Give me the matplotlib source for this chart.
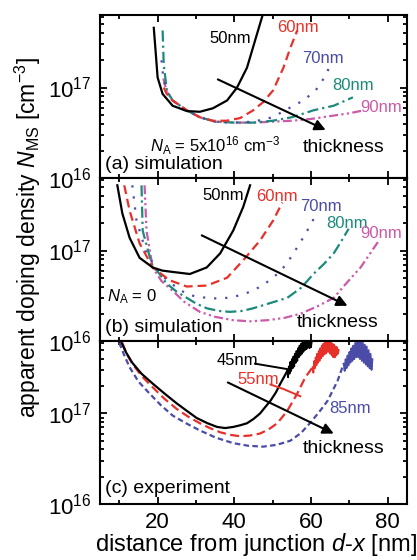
import matplotlib
matplotlib.use("Agg")
import matplotlib.pyplot as plt
from matplotlib.ticker import MultipleLocator, LogLocator, NullFormatter
import numpy as np

plt.rcParams["font.family"] = ["Liberation Sans", "DejaVu Sans"]
plt.rcParams["mathtext.fontset"] = "custom"
plt.rcParams["mathtext.rm"] = "Liberation Sans"
plt.rcParams["mathtext.it"] = "Liberation Sans:italic"
plt.rcParams["mathtext.bf"] = "Liberation Sans:bold"

E16 = 1e16

# (a) simulation, N_A = 5x10^16 cm^-3  (values in units of 1e16 cm^-3)
a50_x = [19.0, 20.0, 21.3, 23.9, 27.6, 31.0, 34.4, 38.1, 40.7, 43.3, 45.4, 47.3]
a50_y = [45.7, 12.9, 8.5, 6.3, 5.5, 5.4, 5.9, 7.2, 10.0, 16.6, 33.1, 61.7]
a60_x = [21.6, 22.4, 23.9, 27.6, 31.0, 34.4, 38.0, 41.5, 44.9, 47.5, 50.1, 52.8, 54.6, 56.4]
a60_y = [10.0, 8.5, 7.2, 5.6, 4.7, 4.3, 4.3, 4.6, 5.6, 6.9, 9.3, 16.6, 27.5, 42.7]
a70_x = [21.0, 21.5, 22.4, 23.9, 27.6, 31.0, 35.0, 40.0, 45.0, 50.0, 55.4, 58.0, 61.2, 63.3, 64.6]
a70_y = [20.0, 12.6, 8.9, 7.2, 5.6, 4.7, 4.2, 4.1, 4.2, 4.7, 6.3, 7.2, 9.3, 12.6, 16.2]
a80_x = [21.3, 21.6, 22.4, 23.9, 27.6, 31.0, 35.0, 40.0, 45.0, 50.0, 55.0, 60.6, 65.9, 70.9]
a80_y = [42.7, 17.8, 9.3, 7.2, 5.6, 4.7, 4.2, 4.1, 4.1, 4.3, 4.7, 5.6, 6.3, 7.8]
a90_x = [21.5, 22.4, 23.9, 27.6, 31.0, 35.0, 40.0, 45.0, 50.0, 55.0, 60.0, 65.9, 70.0, 73.7]
a90_y = [12.6, 8.9, 7.2, 5.6, 4.7, 4.2, 4.1, 4.1, 4.2, 4.3, 4.5, 4.9, 5.2, 5.6]

# (b) simulation, N_A = 0
b50_x = [9.5, 10.8, 12.7, 15.3, 18.7, 21.2, 23.9, 28.4, 32.8, 36.3, 39.7, 42.3, 44.1]
b50_y = [52.5, 25.7, 13.8, 8.3, 6.5, 6.0, 5.8, 5.5, 6.5, 9.3, 16.6, 30.2, 52.5]
b60_x = [11.3, 12.7, 15.3, 18.7, 23.1, 27.6, 32.8, 38.1, 42.3, 46.7, 50.1, 52.5]
b60_y = [52.5, 27.5, 12.0, 6.5, 4.7, 4.0, 4.1, 5.0, 7.8, 12.9, 21.4, 33.9]
b70_x = [13.4, 14.5, 17.1, 19.8, 22.4, 25.0, 27.6, 30.0, 32.8, 35.5, 38.1, 41.5, 44.9,
         48.0, 51.2, 53.5, 55.4, 57.3, 59.0, 61.2]
b70_y = [52.5, 21.4, 9.3, 6.3, 4.7, 3.9, 3.3, 3.1, 3.0, 2.95, 3.0, 3.2, 3.6,
         4.3, 5.5, 7.0, 9.3, 12.5, 16.6, 24.5]
b80_x = [15.8, 16.1, 18.4, 22.4, 25.0, 27.6, 30.0, 32.8, 36.0, 38.9, 42.0, 44.9, 49.0,
         53.8, 57.5, 60.6, 63.5, 65.9, 67.8, 69.8]
b80_y = [52.5, 16.6, 7.2, 4.3, 3.5, 3.0, 2.6, 2.3, 2.15, 2.1, 2.15, 2.3, 2.6,
         3.0, 3.9, 5.5, 7.2, 9.3, 12.5, 17.4]
b90_x = [16.6, 17.1, 18.7, 21.0, 23.9, 27.0, 31.0, 35.0, 39.7, 44.0, 48.6, 53.0, 57.2,
         61.5, 65.9, 69.5, 72.9, 77.7]
b90_y = [52.5, 16.6, 6.5, 4.6, 3.6, 2.7, 2.1, 1.85, 1.7, 1.65, 1.7, 1.8, 2.0,
         2.4, 3.0, 4.5, 6.5, 12.9]

# (c) experiment
c45_x = [10.6, 11.8, 13.4, 15.8, 18.7, 21.8, 25.0, 27.6, 30.2, 33.0, 35.5, 37.6, 39.7,
         41.5, 43.3, 45.0, 46.7, 48.0, 49.4, 50.8, 52.0, 53.8]
c45_y = [60.3, 47.0, 36.3, 27.5, 21.4, 16.6, 12.9, 10.7, 8.9, 7.8, 7.1, 6.9, 7.1,
         7.4, 7.8, 8.7, 10.0, 11.7, 13.8, 17.0, 21.4, 29.5]
c45_noise_x = [53.8, 54.0, 54.2, 54.4, 54.6, 54.8, 55.0, 55.2, 55.4, 55.6, 55.8, 56.0,
               56.2, 56.4, 56.6, 56.8, 57.0, 57.2, 57.4, 57.6, 57.8, 58.0, 58.2,
               58.4, 58.6, 58.8, 59.0, 59.2, 59.4, 59.6, 59.8, 60.0, 60.2]
c45_noise_y = [29.5, 25.1, 33.1, 27.5, 37.2, 29.5, 39.8, 31.6, 42.7, 33.1, 45.7, 36.3,
               49.0, 38.0, 52.5, 41.7, 56.2, 43.7, 58.9, 45.7, 61.7, 47.9, 63.1,
               50.1, 63.1, 51.3, 63.1, 53.7, 63.1, 52.5, 63.1, 55.0, 63.1]
c55_x = [10.8, 12.0, 13.4, 15.8, 18.7, 21.8, 25.0, 28.0, 31.0, 33.6, 36.3, 39.0, 41.5,
         44.0, 46.7, 49.0, 51.2, 53.8, 56.4, 58.5, 60.4]
c55_y = [60.3, 45.0, 35.5, 26.0, 19.5, 14.5, 11.2, 9.2, 7.8, 6.9, 6.2, 5.8, 5.6,
         5.7, 6.0, 6.7, 7.8, 10.7, 16.6, 25.1, 32.4]
c55_noise_x = [60.4, 60.6, 60.8, 61.0, 61.2, 61.4, 61.6, 61.8, 62.0, 62.2, 62.4, 62.6,
               62.8, 63.0, 63.2, 63.4, 63.6, 63.8, 64.0, 64.2, 64.4, 64.6, 64.8,
               65.0, 65.2, 65.4, 65.6, 65.8, 66.0, 66.2, 66.4, 66.6, 66.8, 67.0, 67.2]
c55_noise_y = [32.4, 28.2, 38.0, 31.6, 41.7, 33.9, 45.7, 36.3, 49.0, 38.0, 52.5, 40.7,
               56.2, 42.7, 58.9, 44.7, 61.7, 45.7, 63.1, 47.9, 63.1, 47.9, 63.1,
               45.7, 60.3, 43.7, 58.9, 41.7, 57.5, 41.7, 55.0, 43.7, 53.7, 45.7, 50.1]
c85_x = [10.0, 11.2, 12.7, 15.0, 17.9, 20.8, 23.9, 27.4, 31.0, 35.2, 39.7, 43.6, 47.5,
         51.0, 54.6, 57.4, 59.8, 62.2, 64.3, 66.9, 68.5]
c85_y = [60.3, 45.0, 32.4, 22.5, 16.6, 12.4, 9.5, 7.8, 6.5, 5.4, 4.7, 4.4, 4.3,
         4.5, 5.0, 6.1, 7.9, 10.5, 13.8, 22.9, 35.5]
c85_noise_x = [68.5, 68.75, 69.0, 69.25, 69.5, 69.75, 70.0, 70.25, 70.5, 70.75, 71.0,
               71.25, 71.5, 71.75, 72.0, 72.25, 72.5, 72.75, 73.0, 73.25, 73.5,
               73.75, 74.0, 74.25, 74.5, 74.75, 75.0, 75.25, 75.5, 75.75, 76.0]
c85_noise_y = [35.5, 29.5, 39.8, 31.6, 43.7, 33.9, 47.9, 36.3, 52.5, 38.0, 56.2,
               39.8, 60.3, 41.7, 63.1, 41.7, 63.1, 39.8, 63.1, 38.0, 60.3,
               36.3, 57.5, 34.7, 55.0, 33.1, 50.1, 31.6, 45.7, 30.2, 39.8]

RED = "#e8302a"
BLUE = "#4a4ca8"
TEAL = "#1b8a7a"
MAGENTA = "#cc5aa8"


def y(v):
    return np.array(v) * E16


def style_axis(ax):
    ax.set_yscale("log")
    ax.set_xlim(5, 85)
    ax.set_ylim(1e16, 10 ** 17.8)
    ax.set_yticks([1e16, 1e17])
    ax.yaxis.set_minor_locator(LogLocator(base=10, subs=np.arange(2, 10)))
    ax.yaxis.set_minor_formatter(NullFormatter())
    ax.xaxis.set_major_locator(MultipleLocator(20))
    ax.xaxis.set_minor_locator(MultipleLocator(10))
    ax.tick_params(which="both", direction="in", top=True, right=True, width=1.3)
    ax.tick_params(which="major", length=5, labelsize=16, pad=6)
    ax.tick_params(which="minor", length=3)
    for s in ax.spines.values():
        s.set_linewidth(1.5)


def arrow(ax, x0, y0, x1, y1):
    ax.annotate("", xy=(x1, y1), xytext=(x0, y0),
                arrowprops=dict(arrowstyle="-|>", color="black", lw=1.5,
                                mutation_scale=16, shrinkA=0, shrinkB=0))


fig, (ax1, ax2, ax3) = plt.subplots(3, 1, sharex=True, figsize=(4.17, 5.6), dpi=100)
fig.subplots_adjust(left=0.240, right=0.976, top=0.973, bottom=0.100, hspace=0)

lw = 1.6
lab = 12
txt = 14

# panel (a)
ax1.plot(a90_x, y(a90_y), color=MAGENTA, lw=lw, dashes=(4, 1.5, 1, 1.5, 1, 1.5))
ax1.plot(a80_x, y(a80_y), color=TEAL, lw=lw, dashes=(5, 1.8, 1, 1.8))
ax1.plot(a70_x, y(a70_y), color=BLUE, lw=lw, dashes=(1, 4))
ax1.plot(a60_x, y(a60_y), color=RED, lw=lw, dashes=(4, 2.2))
ax1.plot(a50_x, y(a50_y), color="black", lw=lw)
ax1.text(38.9, 3.5e17, "50nm", fontsize=lab, ha="center", va="center")
ax1.text(56.7, 4.6e17, "60nm", fontsize=lab, ha="center", va="center", color=RED)
ax1.text(63.2, 2.1e17, "70nm", fontsize=lab, ha="center", va="center", color=BLUE)
ax1.text(70.9, 1.05e17, "80nm", fontsize=lab, ha="center", va="center", color=TEAL)
ax1.text(78.2, 6.0e16, "90nm", fontsize=lab, ha="center", va="center", color=MAGENTA)
arrow(ax1, 35.7, 1.23e17, 63.8, 3.4e16)
ax1.text(35.0, 2.3e16, r"$N_{\rm A}$ = 5x10$^{16}$ cm$^{-3}$", fontsize=12,
         ha="center", va="center")
ax1.text(68.5, 2.2e16, "thickness", fontsize=txt, ha="center", va="center")
ax1.text(6.2, 1.4e16, "(a) simulation", fontsize=txt, ha="left", va="center")

# panel (b)
ax2.plot(b90_x, y(b90_y), color=MAGENTA, lw=lw, dashes=(4, 1.5, 1, 1.5, 1, 1.5))
ax2.plot(b80_x, y(b80_y), color=TEAL, lw=lw, dashes=(5, 1.8, 1, 1.8))
ax2.plot(b70_x, y(b70_y), color=BLUE, lw=lw, dashes=(1, 4))
ax2.plot(b60_x, y(b60_y), color=RED, lw=lw, dashes=(4, 2.2))
ax2.plot(b50_x, y(b50_y), color="black", lw=lw)
ax2.text(37.0, 4.1e17, "50nm", fontsize=lab, ha="center", va="center")
ax2.text(51.2, 4.0e17, "60nm", fontsize=lab, ha="center", va="center", color=RED)
ax2.text(62.5, 3.1e17, "70nm", fontsize=lab, ha="center", va="center", color=BLUE)
ax2.text(69.5, 2.0e17, "80nm", fontsize=lab, ha="center", va="center", color=TEAL)
ax2.text(78.2, 1.55e17, "90nm", fontsize=lab, ha="center", va="center", color=MAGENTA)
arrow(ax2, 31.5, 1.47e17, 69.5, 2.45e16)
ax2.text(6.9, 3.1e16, r"$N_{\rm A}$ = 0", fontsize=12, ha="left", va="center")
ax2.text(66.9, 1.6e16, "thickness", fontsize=txt, ha="center", va="center")
ax2.text(6.2, 1.4e16, "(b) simulation", fontsize=txt, ha="left", va="center")

# panel (c)
ax3.plot(c85_x, y(c85_y), color=BLUE, lw=lw, dashes=(2.5, 1.5))
ax3.plot(c85_noise_x, y(c85_noise_y), color=BLUE, lw=1.3)
ax3.plot(c55_x, y(c55_y), color=RED, lw=lw, dashes=(4, 2))
ax3.plot(c55_noise_x, y(c55_noise_y), color=RED, lw=1.3)
ax3.plot(c45_x, y(c45_y), color="black", lw=lw)
ax3.plot(c45_noise_x, y(c45_noise_y), color="black", lw=1.3)
ax3.text(40.7, 3.8e17, "45nm", fontsize=lab, ha="center", va="center")
ax3.plot([45.4, 53.8], [10 ** 17.55, 10 ** 17.49], color="black", lw=1.4)
ax3.text(46.2, 2.35e17, "55nm", fontsize=lab, ha="center", va="center", color=RED)
ax3.plot([49.4, 52.8, 57.2], [10 ** 17.32, 10 ** 17.27, 10 ** 17.19], color=RED, lw=1.4)
ax3.text(70.1, 1.13e17, "85nm", fontsize=lab, ha="center", va="center", color=BLUE)
arrow(ax3, 38.3, 2.2e17, 65.9, 6.0e16)
ax3.text(68.5, 4.1e16, "thickness", fontsize=txt, ha="center", va="center")
ax3.text(6.2, 1.5e16, "(c) experiment", fontsize=txt, ha="left", va="center")

for ax in (ax1, ax2, ax3):
    style_axis(ax)
ax1.tick_params(labelbottom=False)
ax2.tick_params(labelbottom=False)

fig.text(256 / 417, 1 - 545 / 560, r"distance from junction $d$-$x$ [nm]",
         fontsize=17, ha="center", va="center")
fig.text(28 / 417, 1 - 238 / 560,
         r"apparent doping density $N_{\rm MS}$ [cm$^{-3}$]",
         fontsize=16.5, ha="center", va="center", rotation=90)

fig.savefig("out.png", dpi=100)
